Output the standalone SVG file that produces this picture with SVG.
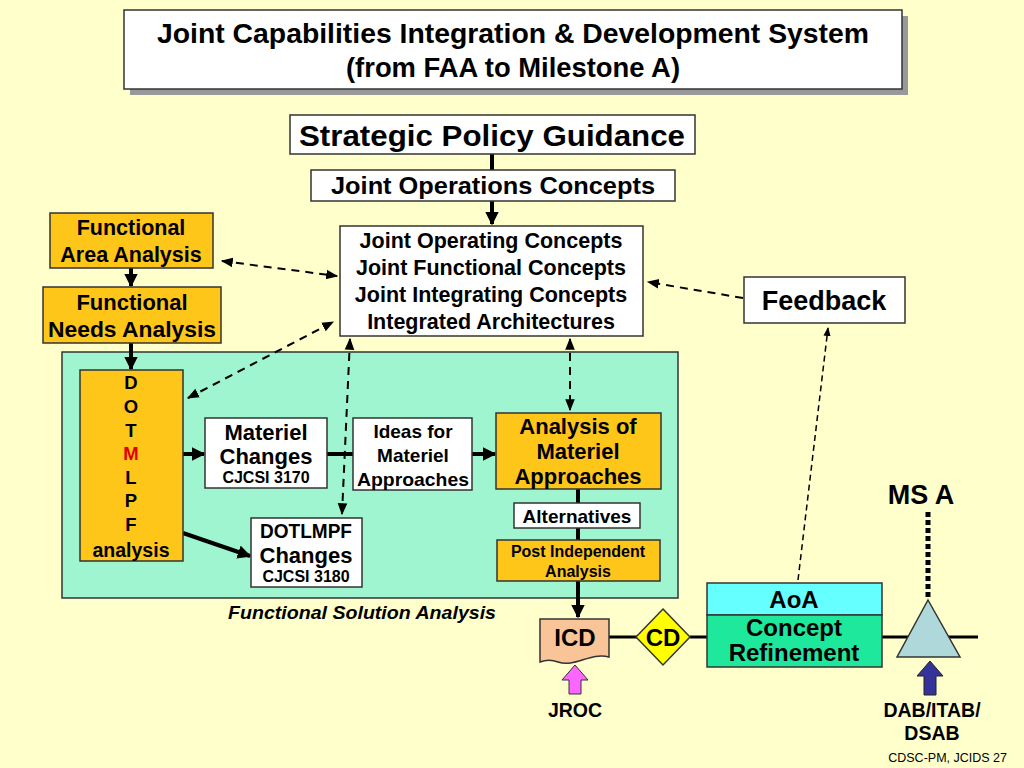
<svg xmlns="http://www.w3.org/2000/svg" width="1024" height="768" viewBox="0 0 1024 768">
<defs>
<style>
text{font-family:"Liberation Sans",Arial,sans-serif;font-weight:bold;fill:#000;text-anchor:middle}
.box{stroke:#333;stroke-width:1.5}
.w{fill:#fff}
.o{fill:#FFC61A}
.solid{stroke:#000;stroke-width:4;fill:none}
.dash{stroke:#000;stroke-width:2;stroke-dasharray:8 6;fill:none}
</style>
<marker id="ah" viewBox="0 0 10 10" refX="9" refY="5" markerWidth="3.4" markerHeight="3.4" orient="auto-start-reverse"><path d="M0,0L10,5L0,10z" fill="#000"/></marker>
<marker id="dh" viewBox="0 0 10 10" refX="9" refY="5" markerWidth="6" markerHeight="6" orient="auto-start-reverse"><path d="M0,1L10,5L0,9z" fill="#000"/></marker>
</defs>
<rect width="1024" height="768" fill="#FFFFCC"/>

<g id="title">
<rect x="130" y="16" width="778" height="79" fill="#999"/>
<rect x="124" y="10" width="778" height="79" class="box w"/>
<text x="513" y="43" font-size="28" textLength="712" lengthAdjust="spacingAndGlyphs">Joint Capabilities Integration &amp; Development System</text>
<text x="513" y="77" font-size="28" textLength="334" lengthAdjust="spacingAndGlyphs">(from FAA to Milestone A)</text>
</g>

<g id="region">
<rect x="62" y="352" width="616" height="246" fill="#9FF5CF" stroke="#333" stroke-width="1.5"/>
<text x="362" y="619" font-size="18" font-style="italic" textLength="268" lengthAdjust="spacingAndGlyphs">Functional Solution Analysis</text>
</g>

<g id="connectors">
<line x1="492" y1="154" x2="492" y2="170" class="solid"/>
<line x1="492" y1="201" x2="492" y2="224" class="solid" marker-end="url(#ah)"/>
<line x1="131" y1="268" x2="131" y2="286" class="solid" stroke-width="3" marker-end="url(#ah)"/>
<line x1="131" y1="343" x2="131" y2="369" class="solid" stroke-width="3" marker-end="url(#ah)"/>
<line x1="155" y1="454" x2="204" y2="454" class="solid" marker-end="url(#ah)"/>
<line x1="327" y1="454" x2="353" y2="454" class="solid"/>
<line x1="472" y1="454" x2="495" y2="454" class="solid" marker-end="url(#ah)"/>
<line x1="183" y1="533" x2="250" y2="556" class="solid" marker-end="url(#ah)"/>
<line x1="578" y1="489" x2="578" y2="503" class="solid"/>
<line x1="578" y1="528" x2="578" y2="540" class="solid"/>
<line x1="578" y1="581" x2="578" y2="617" class="solid" marker-end="url(#ah)"/>
<line x1="609" y1="637" x2="637" y2="637" stroke="#000" stroke-width="3"/>
<line x1="690" y1="637" x2="707" y2="637" stroke="#000" stroke-width="3"/>
<line x1="882" y1="637" x2="978" y2="637" stroke="#000" stroke-width="3"/>
<line x1="928" y1="512" x2="928" y2="600" stroke="#000" stroke-width="5" stroke-dasharray="5 3"/>
<line x1="222" y1="261" x2="337" y2="276" class="dash" marker-start="url(#dh)" marker-end="url(#dh)"/>
<line x1="188" y1="398" x2="333" y2="322" class="dash" marker-start="url(#dh)" marker-end="url(#dh)"/>
<line x1="350" y1="339" x2="342" y2="514" class="dash" marker-start="url(#dh)" marker-end="url(#dh)"/>
<line x1="570" y1="339" x2="570" y2="410" class="dash" marker-start="url(#dh)" marker-end="url(#dh)"/>
<line x1="743" y1="298" x2="648" y2="282" class="dash" marker-end="url(#dh)"/>
<line x1="798" y1="580" x2="828" y2="328" stroke="#000" stroke-width="1.5" stroke-dasharray="6 4" marker-end="url(#dh)"/>
</g>

<g id="spg">
<rect x="290" y="115" width="405" height="39" class="box w"/>
<text x="492" y="146" font-size="30" textLength="386" lengthAdjust="spacingAndGlyphs">Strategic Policy Guidance</text>
</g>
<g id="joc">
<rect x="311" y="170" width="364" height="31" class="box w"/>
<text x="493" y="194" font-size="23" textLength="324" lengthAdjust="spacingAndGlyphs">Joint Operations Concepts</text>
</g>
<g id="concepts">
<rect x="340" y="226" width="303" height="110" class="box w"/>
<text x="491" y="248" font-size="21.5">Joint Operating Concepts</text>
<text x="491" y="275" font-size="21.5">Joint Functional Concepts</text>
<text x="491" y="302" font-size="21.5">Joint Integrating Concepts</text>
<text x="491" y="329" font-size="21.5">Integrated Architectures</text>
</g>
<g id="faa">
<rect x="50" y="213" width="163" height="55" class="box o"/>
<text x="131" y="235" font-size="21.5">Functional</text>
<text x="131" y="262" font-size="21.5">Area Analysis</text>
</g>
<g id="fna">
<rect x="43" y="287" width="178" height="56" class="box o"/>
<text x="132" y="310" font-size="22">Functional</text>
<text x="132" y="337" font-size="22" textLength="168" lengthAdjust="spacingAndGlyphs">Needs Analysis</text>
</g>
<g id="feedback">
<rect x="744" y="277" width="161" height="46" class="box w"/>
<text x="824" y="310" font-size="27">Feedback</text>
</g>
<g id="dotmlpf">
<rect x="80" y="370" width="103" height="191" class="box o"/>
<text x="131" y="389" font-size="18.5">D</text>
<text x="131" y="413" font-size="18.5">O</text>
<text x="131" y="437" font-size="18.5">T</text>
<text x="131" y="460" font-size="18.5" style="fill:#E00000">M</text>
<text x="131" y="484" font-size="18.5">L</text>
<text x="131" y="507" font-size="18.5">P</text>
<text x="131" y="531" font-size="18.5">F</text>
<text x="131" y="557" font-size="19.5">analysis</text>
</g>
<g id="materiel">
<rect x="205" y="418" width="122" height="70" class="box w"/>
<text x="266" y="440" font-size="22">Materiel</text>
<text x="266" y="464" font-size="22">Changes</text>
<text x="266" y="483" font-size="16">CJCSI 3170</text>
</g>
<g id="ideas">
<rect x="353" y="418" width="119" height="72" class="box w"/>
<text x="413" y="438" font-size="19">Ideas for</text>
<text x="413" y="462" font-size="19">Materiel</text>
<text x="413" y="486" font-size="19" textLength="112" lengthAdjust="spacingAndGlyphs">Approaches</text>
</g>
<g id="ama">
<rect x="496" y="413" width="165" height="76" class="box o"/>
<text x="578" y="434" font-size="22">Analysis of</text>
<text x="578" y="459" font-size="22">Materiel</text>
<text x="578" y="484" font-size="22">Approaches</text>
</g>
<g id="alternatives">
<rect x="514" y="503" width="126" height="25" class="box w"/>
<text x="577" y="523" font-size="19">Alternatives</text>
</g>
<g id="pia">
<rect x="497" y="540" width="163" height="41" class="box o"/>
<text x="578" y="557" font-size="16">Post Independent</text>
<text x="578" y="577" font-size="16">Analysis</text>
</g>
<g id="dotlmpf">
<rect x="251" y="518" width="111" height="69" class="box w"/>
<text x="306" y="538" font-size="21" textLength="92" lengthAdjust="spacingAndGlyphs">DOTLMPF</text>
<text x="306" y="563" font-size="22">Changes</text>
<text x="306" y="582" font-size="16">CJCSI 3180</text>
</g>
<g id="icd">
<path d="M540,619H609V657C590,652 575,668 558,662C550,659 545,660 540,662Z" fill="#F9C497" stroke="#333" stroke-width="1.5"/>
<text x="575" y="646" font-size="24">ICD</text>
</g>
<g id="cd">
<path d="M663,609L690,637L663,665L636,637Z" fill="#FFFF00" stroke="#333" stroke-width="1.5"/>
<text x="663" y="646" font-size="24">CD</text>
</g>
<g id="aoa">
<rect x="707" y="583" width="175" height="32" fill="#66FFFF" class="box"/>
<rect x="707" y="615" width="175" height="52" fill="#1EE89C" class="box"/>
<text x="794" y="608" font-size="24">AoA</text>
<text x="794" y="636" font-size="24">Concept</text>
<text x="794" y="661" font-size="24">Refinement</text>
</g>
<g id="msa">
<path d="M928,600L960,657H897Z" fill="#AED8DA" stroke="#333" stroke-width="1.5"/>
<text x="921" y="504" font-size="27">MS A</text>
</g>
<g id="jroc">
<path d="M575,665L588,680H581V694H569V680H562Z" fill="#FF66FF" stroke="#333" stroke-width="1"/>
<text x="575" y="717" font-size="19.5">JROC</text>
</g>
<g id="dab">
<path d="M930,661L943,676H936V695H924V676H917Z" fill="#333399" stroke="#222" stroke-width="1"/>
<text x="932" y="717" font-size="19.5">DAB/ITAB/</text>
<text x="932" y="740" font-size="19.5">DSAB</text>
</g>
<text x="1007" y="762" font-size="12.5" style="font-weight:normal;text-anchor:end">CDSC-PM, JCIDS 27</text>
</svg>
